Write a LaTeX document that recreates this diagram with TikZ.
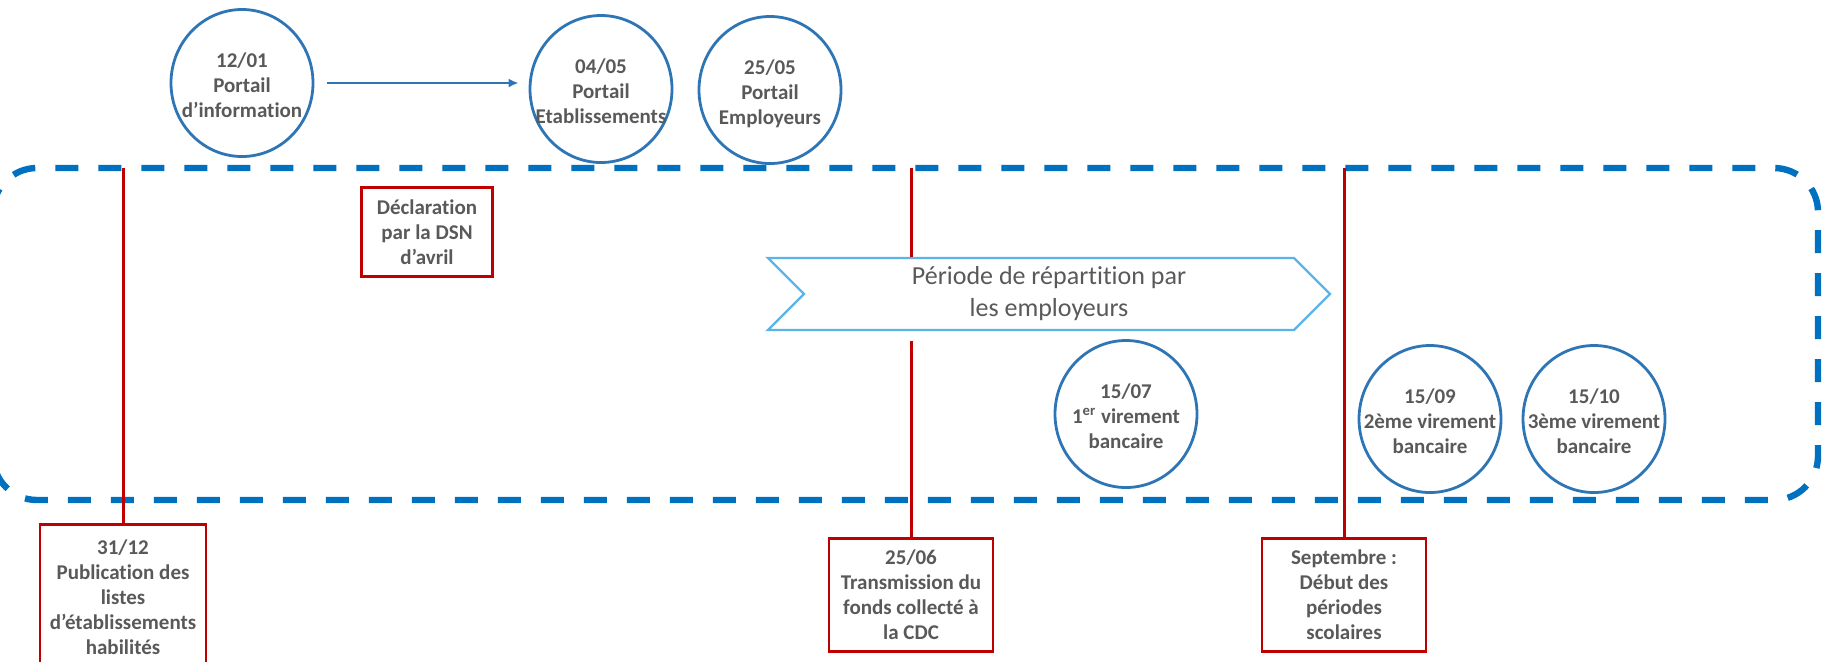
\documentclass[tikz,border=0pt]{standalone}
\usepackage{fontspec}
\setmainfont{Carlito}[Ligatures=NoCommon]
\usetikzlibrary{shapes.geometric,shapes.symbols,arrows.meta}

\definecolor{bleucadre}{HTML}{0070C0}
\definecolor{bleurond}{HTML}{2E75B6}
\definecolor{bleuchev}{HTML}{5AB4EA}
\definecolor{rouge}{HTML}{C00000}
\definecolor{gristexte}{HTML}{595959}

\newcommand{\jalontxt}[1]{\smash{\makebox[0pt]{\raisebox{-5pt}{\begin{tabular}{@{}c@{}}#1\end{tabular}}}}}

\tikzset{
	jalon/.style={ellipse, draw=bleurond, line width=1.4pt, minimum width=71pt, minimum height=73.5pt,
		inner sep=0pt, text=gristexte, font=\fontsize{10.5}{12.5}\selectfont\bfseries},
	evt/.style={rectangle, draw=rouge, line width=1.4pt, inner sep=1pt, align=center, fill=white,
		text=gristexte, font=\fontsize{10.5}{12.5}\selectfont\bfseries},
	repere/.style={draw=rouge, line width=1.5pt},
	cadre/.style={draw=bleucadre, line width=3.2pt, dash pattern=on 11.5pt off 10pt, rounded corners=22pt},
	chevron/.style={signal, signal from=west, signal to=east, signal pointer angle=90, draw=bleuchev,
		line width=1.2pt, fill=white, minimum width=281pt, minimum height=36pt, inner sep=0pt,
		align=center, text=gristexte, font=\fontsize{13}{16}\selectfont},
}

\begin{document}
\begin{tikzpicture}[x=0.5pt, y=-0.5pt]
	\useasboundingbox (0,0) rectangle (1823,661);
	\clip (0,0) rectangle (1823,661);

	% cadre
	\draw[cadre] (-7,168) rectangle (1818,500);
	\coordinate (haut) at (0,168);

	% jalons
	\node[jalon] (c-info) at (242,83) {\jalontxt{12/01\\Portail\\d’information}};
	\node[jalon] (c-etab) at (601,89) {\jalontxt{04/05\\Portail\\Etablissements}};
	\node[jalon] (c-empl) at (770,90) {\jalontxt{25/05\\Portail\\Employeurs}};
	\node[jalon] (c-vir1) at (1126,414) {\jalontxt{15/07\\1\textsuperscript{er} virement\\bancaire}};
	\node[jalon] (c-vir2) at (1430,419) {\jalontxt{15/09\\2ème virement\\bancaire}};
	\node[jalon] (c-vir3) at (1594,419) {\jalontxt{15/10\\3ème virement\\bancaire}};

	\draw[bleurond, line width=1.2pt, -{Latex[length=5pt,width=4.5pt]}]
		([xshift=6.5pt]c-info.east) -- ([xshift=-5pt]c-info.east -| c-etab.west);

	% periode
	\node[chevron] (periode) at (1049,294) {Période de répartition par\\les employeurs};

	% evenements
	\node[evt, minimum width=65.5pt, minimum height=44.5pt] (b-decl) at (427,232) {Déclaration\\par la DSN\\d’avril};
	\node[evt, anchor=north, minimum width=83pt, minimum height=72.5pt] (b-publi) at (123,523)
		{31/12\\Publication des\\listes\\d’établissements\\habilités};
	\node[evt, anchor=north, minimum width=82pt, minimum height=56.5pt] (b-transm) at (911,537)
		{25/06\\Transmission du\\fonds collecté à\\la CDC};
	\node[evt, anchor=north, minimum width=82pt, minimum height=56.5pt] (b-sept) at (1344,537)
		{Septembre :\\Début des\\périodes\\scolaires};

	\foreach \b in {b-publi, b-sept} {
		\draw[repere] (\b.north |- haut) -- (\b.north);
	}
	\draw[repere] (b-transm.north |- haut) -- (b-transm.north |- periode.north);
	\draw[repere, shorten <=5pt] (b-transm.north |- periode.south) -- (b-transm.north);
\end{tikzpicture}
\end{document}
